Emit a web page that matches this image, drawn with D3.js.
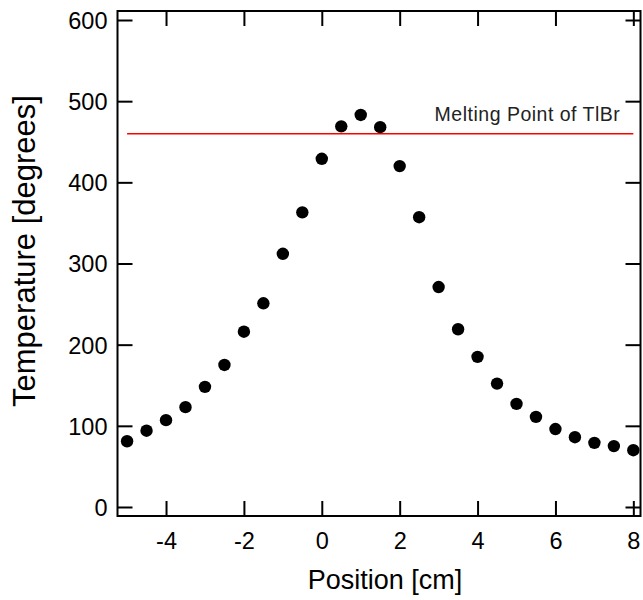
<!DOCTYPE html>
<html>
<head>
<meta charset="utf-8">
<script src="https://cdn.jsdelivr.net/npm/d3@7"></script>
<style>
  html, body { margin: 0; padding: 0; background: #fff; }
  text { font-family: "Liberation Sans", Arial, sans-serif; }
</style>
</head>
<body>
<svg id="chart" width="643" height="600"></svg>
<script>
// ---- data ----
const positions = [-5, -4.5, -4, -3.5, -3, -2.5, -2, -1.5, -1, -0.5, 0, 0.5, 1, 1.5, 2, 2.5, 3, 3.5, 4, 4.5, 5, 5.5, 6, 6.5, 7, 7.5, 8];
const temperatures = [81, 94, 107, 123, 148, 175, 216, 251, 312, 363, 429, 469, 483, 468, 420, 357, 271, 219, 185, 152, 127, 111, 96, 86, 79, 75, 70];
const meltingPoint = 460;
const meltingRange = [-5, 8];
const meltingLabel = "Melting Point of TlBr";
const xTicks = [-4, -2, 0, 2, 4, 6, 8];
const yTicks = [0, 100, 200, 300, 400, 500, 600];
const xTitle = "Position [cm]";
const yTitle = "Temperature [degrees]";

// ---- layout ----
const svg = d3.select("#chart");
const pL = 117.5, pR = 640.5, pT = 11, pB = 516;
const x = d3.scaleLinear().domain([-5.246, 8.184]).range([pL, pR]);
const y = d3.scaleLinear().domain([-11.1, 611.1]).range([pB, pT]);
const tickLen = 15;
const fmt = d => String(d);

// frame
svg.append("rect")
  .attr("x", pL).attr("y", pT)
  .attr("width", pR - pL).attr("height", pB - pT)
  .attr("fill", "none").attr("stroke", "#000").attr("stroke-width", 2);

// axes with inner ticks
const axB = svg.append("g").attr("transform", `translate(0,${pB})`)
  .call(d3.axisBottom(x).tickValues(xTicks).tickSizeInner(-tickLen).tickSizeOuter(0).tickPadding(16).tickFormat(fmt));
const axT = svg.append("g").attr("transform", `translate(0,${pT})`)
  .call(d3.axisTop(x).tickValues(xTicks).tickSizeInner(-tickLen).tickSizeOuter(0).tickFormat(""));
const axL = svg.append("g").attr("transform", `translate(${pL},0)`)
  .call(d3.axisLeft(y).tickValues(yTicks).tickSizeInner(-tickLen).tickSizeOuter(0).tickPadding(10).tickFormat(fmt));
const axR = svg.append("g").attr("transform", `translate(${pR},0)`)
  .call(d3.axisRight(y).tickValues(yTicks).tickSizeInner(-tickLen).tickSizeOuter(0).tickFormat(""));

[axB, axT, axL, axR].forEach(a => {
  a.select(".domain").remove();
  a.selectAll(".tick line").attr("stroke", "#000").attr("stroke-width", 2);
  a.selectAll(".tick text").attr("fill", "#000").attr("font-size", 23.5)
    .attr("font-family", "'Liberation Sans', Arial, sans-serif");
});
axB.selectAll(".tick text").attr("dy", "0.71em");
axL.selectAll(".tick text").attr("dy", "0.36em");

// melting point line
svg.append("line")
  .attr("x1", x(meltingRange[0])).attr("x2", x(meltingRange[1]))
  .attr("y1", y(meltingPoint)).attr("y2", y(meltingPoint))
  .attr("stroke", "#ff0000").attr("stroke-width", 1.5);
svg.append("text")
  .attr("x", x(meltingRange[1]) - 13).attr("y", y(meltingPoint) - 13)
  .attr("text-anchor", "end").attr("font-size", 19.5).attr("letter-spacing", 0.5).attr("fill", "#222")
  .text(meltingLabel);

// points
svg.append("g").selectAll("circle")
  .data(positions.map((p, i) => [p, temperatures[i]]))
  .join("circle")
  .attr("cx", d => x(d[0])).attr("cy", d => y(d[1]))
  .attr("r", 6.2).attr("fill", "#000");

// titles
svg.append("text")
  .attr("x", 385).attr("y", 589)
  .attr("text-anchor", "middle").attr("font-size", 27).attr("fill", "#000")
  .text(xTitle);
svg.append("text")
  .attr("transform", "translate(35,251) rotate(-90)")
  .attr("text-anchor", "middle").attr("font-size", 31).attr("fill", "#000")
  .text(yTitle);
</script>
</body>
</html>
